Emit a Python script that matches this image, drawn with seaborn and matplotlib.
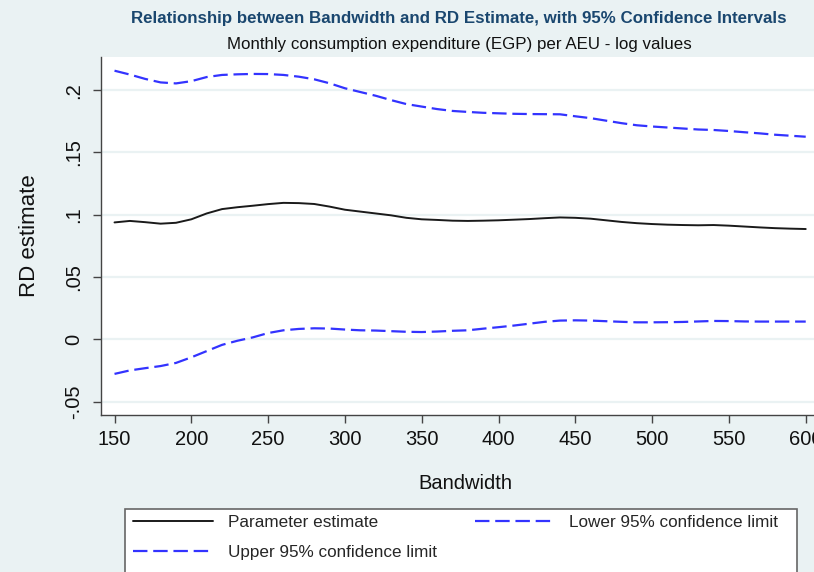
import numpy as np
import pandas as pd
import matplotlib
matplotlib.use("Agg")
import matplotlib.pyplot as plt
from matplotlib.patches import Rectangle
import seaborn as sns

# values
bandwidth = list(range(150, 610, 10))
estimate = [0.0938, 0.0950, 0.0940, 0.0928, 0.0935, 0.0963, 0.1010, 0.1045, 0.1060, 0.1072,
            0.1085, 0.1095, 0.1093, 0.1086, 0.1065, 0.1040, 0.1025, 0.1010, 0.0995, 0.0975,
            0.0963, 0.0958, 0.0952, 0.0950, 0.0952, 0.0955, 0.0960, 0.0965, 0.0972, 0.0978,
            0.0975, 0.0968, 0.0955, 0.0942, 0.0932, 0.0925, 0.0920, 0.0917, 0.0915, 0.0917,
            0.0912, 0.0905, 0.0898, 0.0892, 0.0888, 0.0885]
upper = [0.2156, 0.2125, 0.2090, 0.2062, 0.2054, 0.2072, 0.2105, 0.2122, 0.2127, 0.2130,
         0.2129, 0.2122, 0.2108, 0.2087, 0.2055, 0.2015, 0.1985, 0.1955, 0.1920, 0.1888,
         0.1868, 0.1848, 0.1833, 0.1825, 0.1818, 0.1814, 0.1810, 0.1808, 0.1807, 0.1806,
         0.1790, 0.1775, 0.1755, 0.1735, 0.1718, 0.1708, 0.1700, 0.1692, 0.1684, 0.1680,
         0.1672, 0.1662, 0.1653, 0.1642, 0.1634, 0.1626]
lower = [-0.0278, -0.0250, -0.0232, -0.0215, -0.0190, -0.0145, -0.0095, -0.0045, -0.0012, 0.0015,
         0.0050, 0.0072, 0.0083, 0.0088, 0.0086, 0.0078, 0.0072, 0.0070, 0.0065, 0.0060,
         0.0058, 0.0062, 0.0068, 0.0072, 0.0085, 0.0097, 0.0110, 0.0125, 0.0140, 0.0150,
         0.0152, 0.0150, 0.0145, 0.0140, 0.0136, 0.0136, 0.0137, 0.0139, 0.0143, 0.0147,
         0.0146, 0.0143, 0.0142, 0.0142, 0.0142, 0.0142]

yticks = [-0.05, 0, 0.05, 0.1, 0.15, 0.2]
yticklabels = ["-.05", "0", ".05", ".1", ".15", ".2"]
xticks = list(range(150, 650, 50))

df = pd.DataFrame({"Bandwidth": bandwidth, "est": estimate, "lo": lower, "hi": upper})

sns.set_style("white")
plt.rcParams['font.family'] = ['Liberation Sans', 'DejaVu Sans']

bg = "#EAF2F3"
blue = "#3333FF"
W, H = 814, 572
fig = plt.figure(figsize=(W / 100, H / 100), dpi=100, facecolor=bg)
# plot region in pixels: left 101, top 57, bottom 414.5, runs off the right edge
ax = fig.add_axes([101 / W, 1 - 414.5 / H, (830 - 101) / W, (414.5 - 57) / H])
ax.set_facecolor("white")

sns.lineplot(data=df, x="Bandwidth", y="est", ax=ax, color="#1a1a1a", lw=1.4,
             label="Parameter estimate")
sns.lineplot(data=df, x="Bandwidth", y="hi", ax=ax, color=blue, lw=1.6,
             dashes=(6.5, 2.6), label="Upper 95% confidence limit")
sns.lineplot(data=df, x="Bandwidth", y="lo", ax=ax, color=blue, lw=1.6,
             dashes=(6.5, 2.6), label="Lower 95% confidence limit")
ax.get_legend().remove()

ax.set_xlim(141.2, 615.8)
ax.set_ylim(-0.0604, 0.2266)
ax.set_xticks(xticks)
ax.set_yticks(yticks)
ax.set_yticklabels(yticklabels, rotation=90, va="center")
ax.grid(axis="y", color=bg, lw=1.6)
ax.grid(axis="x", visible=False)
ax.set_axisbelow(True)

for s in ["top", "right"]:
    ax.spines[s].set_visible(False)
for s in ["left", "bottom"]:
    ax.spines[s].set_color("#444444")
    ax.spines[s].set_linewidth(1.0)
ax.tick_params(axis="both", direction="out", length=6, width=1, color="#444444",
               labelsize=14.5, labelcolor="#111111")
ax.tick_params(axis="y", pad=7)
ax.tick_params(axis="x", pad=5, bottom=True)
ax.tick_params(axis="y", left=True)

ax.set_xlabel("Bandwidth", fontsize=14.5, color="#111111", labelpad=18)
ax.set_ylabel("RD estimate", fontsize=16, color="#111111", labelpad=17)

fig.text(459 / W, 1 - 18 / H, "Relationship between Bandwidth and RD Estimate, with 95% Confidence Intervals",
         ha="center", va="center", fontsize=12.2, fontweight="bold", color="#1A476F")
fig.text(459 / W, 1 - 44 / H, "Monthly consumption expenditure (EGP) per AEU - log values",
         ha="center", va="center", fontsize=12.2, color="#111111")

# legend box
fig.patches.append(Rectangle((125 / W, -0.05), (797 - 125) / W, (1 - 509 / H) + 0.05,
                             transform=fig.transFigure, facecolor="white",
                             edgecolor="#666666", lw=1.2, zorder=0))
handles, labels = ax.get_legend_handles_labels()
fig.legend(handles, labels, loc="upper left", bbox_to_anchor=(128 / W, 1 - 510 / H),
           ncol=2, frameon=False, fontsize=12.3, handlelength=4.7, handletextpad=0.85,
           columnspacing=2.2, labelspacing=0.85, borderaxespad=0, borderpad=0.3)

fig.savefig("out.png", dpi=100, facecolor=bg)
